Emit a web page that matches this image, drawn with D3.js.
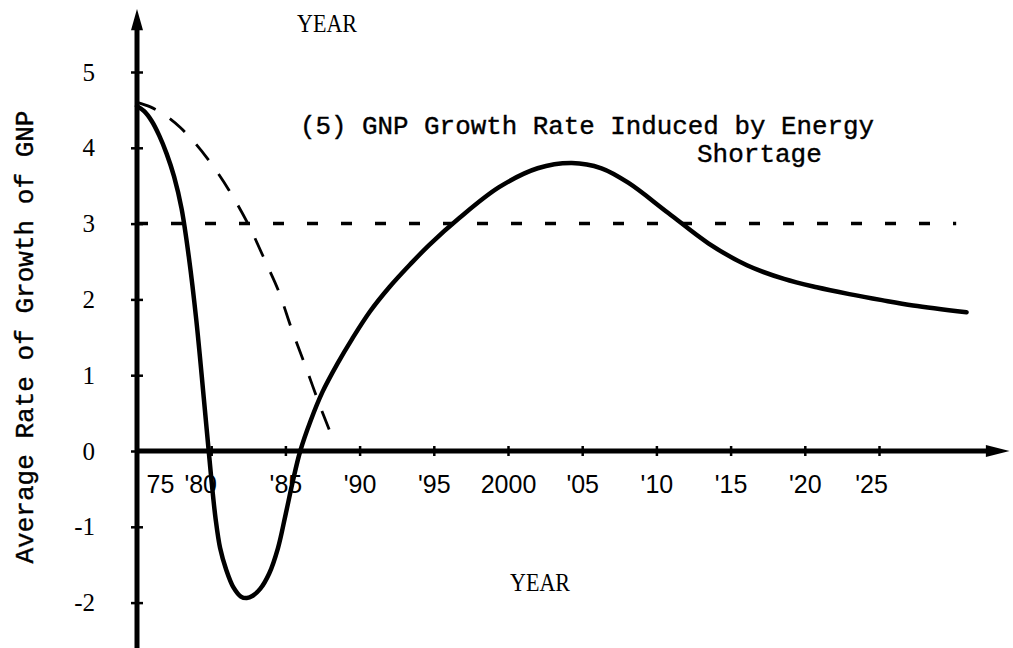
<!DOCTYPE html>
<html>
<head>
<meta charset="utf-8">
<script src="https://cdn.jsdelivr.net/npm/d3@7"></script>
<style>
  body { margin: 0; background: #fff; }
  svg { display: block; }
</style>
</head>
<body>
<svg id="chart" width="1013" height="648"></svg>
<script>
// data
const xTicks = [1975, 1980, 1985, 1990, 1995, 2000, 2005, 2010, 2015, 2020, 2025];
const xTickLabels = ["75", "'80", "'85", "'90", "'95", "2000", "'05", "'10", "'15", "'20", "'25"];
const yTicks = [-2, -1, 0, 1, 2, 3, 4, 5];

// (5) GNP growth rate induced by energy shortage - solid curve
const inducedYears = [1975.0, 1975.5, 1976.0, 1976.5, 1977.0, 1977.5, 1978.0, 1978.5, 1979.0, 1979.5,
  1980.0, 1980.3, 1980.6, 1981.0, 1981.5, 1982.0, 1982.4, 1982.8, 1983.3, 1983.9, 1984.5, 1985.0, 1985.5, 1986.0,
  1986.7, 1987.5, 1988.5, 1989.5, 1990.7, 1992.0, 1993.4, 1994.7, 1996.7, 1999.4, 2002.0, 2004.3,
  2006.3, 2008.1, 2010.8, 2013.5, 2016.1, 2018.6, 2020.8, 2023.0, 2025.2, 2027.3, 2030.9];
const inducedRate = [4.55, 4.48, 4.35, 4.16, 3.92, 3.62, 3.20, 2.55, 1.72, 0.70,
  -0.35, -0.90, -1.28, -1.56, -1.80, -1.92, -1.94, -1.91, -1.82, -1.62, -1.28, -0.85, -0.40, 0.0,
  0.40, 0.78, 1.15, 1.48, 1.84, 2.16, 2.46, 2.72, 3.07, 3.48, 3.73, 3.80,
  3.73, 3.54, 3.14, 2.74, 2.45, 2.27, 2.16, 2.07, 1.99, 1.92, 1.83];

// long-dashed curve
const dashYears = [1975.0, 1975.9, 1977.9, 1979.7, 1981.2, 1982.6, 1983.7, 1984.6, 1985.4, 1986.5, 1987.3, 1988.1];
const dashRate = [4.60, 4.54, 4.27, 3.87, 3.44, 2.95, 2.48, 2.08, 1.62, 1.04, 0.61, 0.21];

// flat 3% reference line
const baseYears = [1975, 2030.2];
const baseRate = [3, 3];

const svg = d3.select("#chart");
svg.append("rect").attr("width", 1013).attr("height", 648).attr("fill", "#fff");

const x = d3.scaleLinear().domain([1975, 2025]).range([137, 879]);
const y = d3.scaleLinear().domain([0, 5]).range([451, 72]);

const line = d3.line()
  .x(d => x(d[0]))
  .y(d => y(d[1]))
  .curve(d3.curveMonotoneX);

// dashed 3% line
svg.append("path")
  .datum(d3.zip(baseYears, baseRate))
  .attr("d", line)
  .attr("fill", "none")
  .attr("stroke", "#000")
  .attr("stroke-width", 3.5)
  .attr("stroke-dasharray", "11,23");

// y axis
const yAxis = svg.append("g")
  .attr("transform", `translate(${x(1975)},0)`)
  .call(d3.axisLeft(y).tickValues(yTicks).tickSize(6).tickPadding(36).tickFormat(d3.format("d")));
yAxis.select(".domain").remove();
yAxis.selectAll(".tick line").attr("x1", 6).attr("stroke-width", 2.5);
yAxis.selectAll(".tick text")
  .attr("font-family", "'Liberation Serif', serif")
  .attr("font-size", 25)
  .attr("fill", "#000")
  .text(d => d < 0 ? "-" + Math.abs(d) : d);

svg.append("line")
  .attr("x1", x(1975)).attr("x2", x(1975))
  .attr("y1", y(-2.62)).attr("y2", y(5.7))
  .attr("stroke", "#000").attr("stroke-width", 5);
svg.append("path")
  .attr("d", `M${x(1975)},${y(5.83)} L${x(1975) - 6},${y(5.55)} L${x(1975) + 6},${y(5.55)} Z`)
  .attr("fill", "#000");

// x axis
const xAxis = svg.append("g")
  .attr("transform", `translate(0,${y(0)})`)
  .call(d3.axisBottom(x).tickValues(xTicks).tickSize(5).tickPadding(19)
    .tickFormat((d, i) => xTickLabels[i]));
xAxis.select(".domain").remove();
xAxis.selectAll(".tick line").attr("y1", -5).attr("stroke-width", 2.5)
  .attr("display", d => d === 1975 ? "none" : null);
xAxis.selectAll(".tick text")
  .attr("font-family", "'Liberation Sans', Arial, sans-serif")
  .attr("font-size", 25)
  .attr("fill", "#000")
  .attr("dx", d => d === 1975 ? 23 : d === 1980 ? -11 : d === 2025 ? -8 : 0);

svg.append("line")
  .attr("x1", x(1975)).attr("x2", x(2032.4))
  .attr("y1", y(0)).attr("y2", y(0))
  .attr("stroke", "#000").attr("stroke-width", 5);
svg.append("path")
  .attr("d", `M${x(2033.8)},${y(0)} L${x(2032.2)},${y(0) - 6} L${x(2032.2)},${y(0) + 6} Z`)
  .attr("fill", "#000");

// curves
svg.append("path")
  .datum(d3.zip(dashYears, dashRate))
  .attr("d", line)
  .attr("fill", "none")
  .attr("stroke", "#000")
  .attr("stroke-width", 2.8)
  .attr("stroke-dasharray", "20,17");

svg.append("path")
  .datum(d3.zip(inducedYears, inducedRate))
  .attr("d", line.curve(d3.curveCatmullRom.alpha(0.5)))
  .attr("fill", "none")
  .attr("stroke", "#000")
  .attr("stroke-width", 4.5)
  .attr("stroke-linecap", "round");

// texts
svg.append("text")
  .attr("x", 297).attr("y", 32)
  .attr("font-family", "'Liberation Serif', serif")
  .attr("font-size", 26)
  .attr("textLength", 60).attr("lengthAdjust", "spacingAndGlyphs")
  .text("YEAR");

svg.append("text")
  .attr("x", 510).attr("y", 591)
  .attr("font-family", "'Liberation Serif', serif")
  .attr("font-size", 26)
  .attr("textLength", 60).attr("lengthAdjust", "spacingAndGlyphs")
  .text("YEAR");

const mono = "'Liberation Mono', 'Courier New', monospace";
svg.append("text")
  .attr("transform", "translate(33,337) rotate(-90)")
  .attr("text-anchor", "middle")
  .attr("font-family", mono)
  .attr("font-size", 26)
  .attr("stroke", "#000").attr("stroke-width", 0.4)
  .attr("textLength", 453).attr("lengthAdjust", "spacingAndGlyphs")
  .text("Average Rate of Growth of GNP");

svg.append("text")
  .attr("x", 300).attr("y", 134)
  .attr("font-family", mono)
  .attr("font-size", 26)
  .attr("stroke", "#000").attr("stroke-width", 0.4)
  .attr("textLength", 574).attr("lengthAdjust", "spacingAndGlyphs")
  .text("(5) GNP Growth Rate Induced by Energy");

svg.append("text")
  .attr("x", 697).attr("y", 162)
  .attr("font-family", mono)
  .attr("font-size", 26)
  .attr("stroke", "#000").attr("stroke-width", 0.4)
  .text("Shortage");
</script>
</body>
</html>
